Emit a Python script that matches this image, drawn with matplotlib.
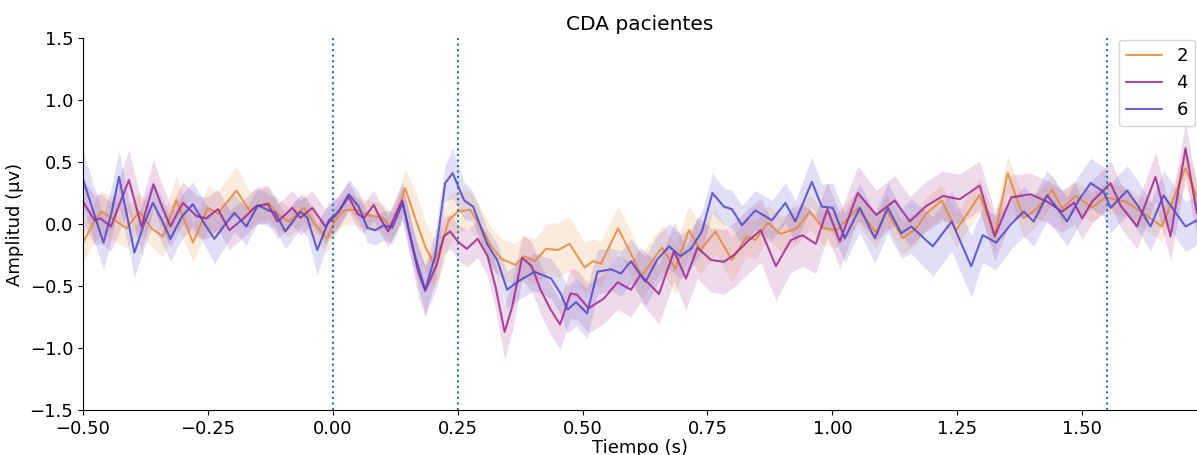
import numpy as np
import matplotlib
matplotlib.use("Agg")
import matplotlib.pyplot as plt

# ---------------- datos ----------------
t_2 = [-0.500, -0.480, -0.463, -0.443, -0.413, -0.387, -0.363, -0.340, -0.313, -0.296,
       -0.280, -0.250, -0.230, -0.193, -0.167, -0.147, -0.128, -0.108, -0.088, -0.058,
       -0.035, -0.011, 0.005, 0.022, 0.045, 0.072, 0.099, 0.115, 0.129, 0.145,
       0.165, 0.185, 0.202, 0.219, 0.232, 0.250, 0.275, 0.296, 0.316, 0.337,
       0.365, 0.384, 0.404, 0.427, 0.451, 0.474, 0.504, 0.521, 0.537, 0.571,
       0.597, 0.618, 0.659, 0.686, 0.713, 0.736, 0.766, 0.799, 0.829, 0.846,
       0.871, 0.896, 0.929, 0.955, 0.981, 1.008, 1.030, 1.051, 1.088, 1.108,
       1.141, 1.168, 1.188, 1.219, 1.248, 1.295, 1.325, 1.351, 1.383, 1.410,
       1.440, 1.460, 1.487, 1.520, 1.547, 1.587, 1.627, 1.660, 1.707, 1.730]
y_2 = [-0.15, 0.00, 0.10, 0.05, -0.035, 0.10, -0.035, -0.10, 0.19, 0.02,
       -0.15, 0.13, 0.086, 0.27, 0.11, 0.15, 0.17, 0.072, 0.02, 0.13,
       -0.008, -0.115, 0.03, 0.11, 0.115, 0.07, 0.053, -0.02, 0.086, 0.29,
       0.046, -0.18, -0.32, -0.156, 0.03, 0.10, 0.115, -0.02, -0.17, -0.28,
       -0.33, -0.26, -0.30, -0.20, -0.21, -0.16, -0.35, -0.30, -0.32, -0.035,
       -0.24, -0.42, -0.19, -0.36, -0.05, -0.21, -0.06, -0.29, -0.10, -0.13,
       0.01, -0.08, -0.035, 0.10, -0.03, -0.05, 0.04, 0.126, -0.07, 0.113,
       -0.115, -0.035, 0.086, 0.19, -0.05, 0.234, -0.09, 0.41, 0.046, 0.126,
       0.274, 0.126, 0.226, 0.134, 0.215, 0.18, 0.073, -0.02, 0.45, 0.22]
e_2 = [0.15, 0.16, 0.17, 0.17, 0.16, 0.16, 0.15, 0.16, 0.20, 0.18,
       0.15, 0.18, 0.17, 0.20, 0.15, 0.13, 0.13, 0.12, 0.12, 0.12,
       0.12, 0.12, 0.12, 0.12, 0.12, 0.12, 0.12, 0.12, 0.13, 0.15,
       0.22, 0.20, 0.20, 0.22, 0.20, 0.17, 0.15, 0.15, 0.15, 0.16,
       0.17, 0.17, 0.18, 0.20, 0.22, 0.22, 0.20, 0.18, 0.18, 0.18,
       0.18, 0.18, 0.18, 0.20, 0.20, 0.20, 0.18, 0.18, 0.16, 0.15,
       0.14, 0.14, 0.14, 0.14, 0.14, 0.14, 0.14, 0.13, 0.13, 0.13,
       0.13, 0.13, 0.13, 0.13, 0.14, 0.14, 0.14, 0.14, 0.16, 0.13,
       0.12, 0.13, 0.12, 0.12, 0.12, 0.12, 0.12, 0.12, 0.15, 0.14]

t_4 = [-0.500, -0.477, -0.465, -0.444, -0.426, -0.408, -0.395, -0.383, -0.371, -0.359,
       -0.342, -0.325, -0.300, -0.273, -0.253, -0.230, -0.207, -0.180, -0.153, -0.130,
       -0.111, -0.098, -0.081, -0.065, -0.041, -0.015, 0.009, 0.032, 0.049, 0.062,
       0.082, 0.095, 0.111, 0.125, 0.139, 0.159, 0.172, 0.185, 0.209, 0.222,
       0.235, 0.250, 0.268, 0.290, 0.310, 0.326, 0.344, 0.359, 0.379, 0.398,
       0.416, 0.436, 0.455, 0.476, 0.489, 0.512, 0.543, 0.570, 0.597, 0.616,
       0.653, 0.683, 0.707, 0.730, 0.757, 0.783, 0.803, 0.833, 0.857, 0.887,
       0.917, 0.940, 0.967, 0.990, 1.015, 1.051, 1.088, 1.125, 1.155, 1.188,
       1.221, 1.255, 1.295, 1.325, 1.358, 1.397, 1.430, 1.460, 1.484, 1.500,
       1.520, 1.557, 1.577, 1.610, 1.647, 1.677, 1.707, 1.730]
y_4 = [0.18, 0.03, 0.045, -0.02, 0.17, 0.355, 0.16, -0.02, 0.15, 0.32,
       0.14, -0.02, 0.17, 0.065, 0.045, 0.12, -0.05, 0.04, 0.145, 0.16,
       0.02, 0.065, 0.13, 0.05, 0.13, -0.02, 0.086, 0.22, 0.086, 0.046,
       0.153, 0.046, -0.06, 0.07, 0.19, -0.18, -0.40, -0.54, -0.32, -0.10,
       -0.06, -0.14, -0.20, -0.12, -0.26, -0.51, -0.87, -0.67, -0.27, -0.34,
       -0.53, -0.69, -0.81, -0.56, -0.57, -0.68, -0.60, -0.47, -0.53, -0.41,
       -0.565, -0.22, -0.44, -0.19, -0.29, -0.305, -0.25, -0.13, -0.05, -0.34,
       -0.13, -0.09, -0.16, 0.12, -0.14, 0.25, 0.073, 0.19, 0.02, 0.145,
       0.226, 0.20, 0.31, -0.10, 0.215, 0.24, 0.18, 0.10, 0.172, 0.046,
       0.18, 0.328, 0.15, -0.02, 0.38, -0.10, 0.61, 0.086]
e_4 = [0.18, 0.20, 0.20, 0.20, 0.22, 0.24, 0.22, 0.20, 0.20, 0.20,
       0.18, 0.17, 0.17, 0.17, 0.17, 0.16, 0.16, 0.15, 0.15, 0.15,
       0.14, 0.14, 0.14, 0.14, 0.14, 0.14, 0.13, 0.12, 0.12, 0.12,
       0.12, 0.12, 0.13, 0.14, 0.15, 0.17, 0.20, 0.20, 0.18, 0.15,
       0.14, 0.14, 0.15, 0.15, 0.16, 0.18, 0.22, 0.20, 0.18, 0.20,
       0.20, 0.20, 0.20, 0.20, 0.20, 0.20, 0.20, 0.22, 0.22, 0.22,
       0.24, 0.24, 0.25, 0.25, 0.26, 0.26, 0.26, 0.26, 0.26, 0.28,
       0.26, 0.25, 0.24, 0.22, 0.22, 0.22, 0.20, 0.20, 0.20, 0.20,
       0.20, 0.20, 0.20, 0.20, 0.18, 0.17, 0.17, 0.17, 0.17, 0.17,
       0.17, 0.18, 0.18, 0.18, 0.20, 0.20, 0.22, 0.20]

t_6 = [-0.500, -0.480, -0.459, -0.443, -0.428, -0.412, -0.397, -0.378, -0.360, -0.342,
       -0.325, -0.302, -0.280, -0.258, -0.237, -0.217, -0.197, -0.173, -0.150, -0.128,
       -0.115, -0.095, -0.065, -0.051, -0.031, -0.008, 0.012, 0.032, 0.052, 0.069,
       0.085, 0.102, 0.119, 0.140, 0.165, 0.185, 0.205, 0.225, 0.240, 0.263,
       0.281, 0.309, 0.329, 0.349, 0.372, 0.404, 0.437, 0.456, 0.470, 0.487,
       0.509, 0.530, 0.557, 0.577, 0.597, 0.616, 0.626, 0.649, 0.673, 0.696,
       0.717, 0.739, 0.760, 0.783, 0.799, 0.819, 0.846, 0.879, 0.906, 0.926,
       0.959, 0.979, 1.001, 1.025, 1.055, 1.085, 1.111, 1.138, 1.158, 1.201,
       1.239, 1.278, 1.301, 1.328, 1.358, 1.383, 1.403, 1.430, 1.450, 1.470,
       1.493, 1.517, 1.543, 1.557, 1.590, 1.613, 1.637, 1.663, 1.707, 1.730]
y_6 = [0.36, 0.11, -0.15, 0.09, 0.38, 0.07, -0.23, 0.00, 0.17, 0.03,
       -0.12, 0.06, 0.16, 0.01, -0.12, -0.01, 0.09, -0.02, 0.15, 0.11,
       0.09, -0.06, 0.10, 0.05, -0.21, 0.03, 0.10, 0.24, 0.14, -0.03,
       -0.05, -0.01, -0.03, 0.17, -0.26, -0.53, -0.26, 0.33, 0.41, 0.19,
       0.14, -0.16, -0.29, -0.53, -0.46, -0.385, -0.44, -0.56, -0.69, -0.63,
       -0.72, -0.385, -0.365, -0.40, -0.30, -0.41, -0.465, -0.29, -0.18, -0.26,
       -0.20, -0.06, 0.25, 0.14, 0.12, -0.01, 0.11, 0.03, 0.17, 0.02,
       0.34, 0.14, 0.13, -0.115, 0.13, -0.115, 0.13, -0.075, -0.02, -0.18,
       0.02, -0.34, -0.09, -0.15, 0.00, 0.10, 0.02, 0.23, 0.13, 0.02,
       0.19, 0.33, 0.26, 0.13, 0.27, 0.14, -0.02, 0.23, -0.02, 0.03]
e_6 = [0.23, 0.22, 0.22, 0.21, 0.21, 0.20, 0.20, 0.20, 0.18, 0.18,
       0.18, 0.18, 0.18, 0.17, 0.20, 0.18, 0.15, 0.15, 0.14, 0.13,
       0.13, 0.14, 0.14, 0.15, 0.20, 0.15, 0.12, 0.12, 0.12, 0.12,
       0.12, 0.12, 0.13, 0.14, 0.15, 0.20, 0.20, 0.15, 0.20, 0.15,
       0.12, 0.12, 0.13, 0.15, 0.15, 0.15, 0.16, 0.17, 0.19, 0.19,
       0.20, 0.18, 0.17, 0.18, 0.18, 0.18, 0.20, 0.20, 0.18, 0.18,
       0.16, 0.16, 0.16, 0.15, 0.15, 0.16, 0.16, 0.16, 0.16, 0.17,
       0.20, 0.18, 0.20, 0.20, 0.20, 0.20, 0.20, 0.20, 0.22, 0.24,
       0.24, 0.25, 0.22, 0.22, 0.20, 0.20, 0.20, 0.20, 0.20, 0.20,
       0.20, 0.20, 0.20, 0.20, 0.20, 0.20, 0.20, 0.20, 0.20, 0.20]

etiquetas = ["2", "4", "6"]
colores = ["#e8893a", "#a0288e", "#5046c8"]
eventos = [0.0, 0.25, 1.55]

# ---------------- grafico ----------------
fig = plt.figure(figsize=(11.97, 4.55), dpi=100)
ax = fig.add_axes([83 / 1197, 1 - 410 / 455, 1 - 83 / 1197, (410 - 38) / 455])

series = [(t_2, y_2, e_2), (t_4, y_4, e_4), (t_6, y_6, e_6)]
for (t, y, e), lab, col in zip(series, etiquetas, colores):
    t = np.array(t)
    y = np.array(y)
    e = np.array(e)
    ax.fill_between(t, y - e, y + e, color=col, alpha=0.17, linewidth=0)
    ax.plot(t, y, color=col, lw=1.5, alpha=0.85, label=lab,
            solid_joinstyle="round", solid_capstyle="round")

for ev in eventos:
    ax.axvline(ev, color="#1f77b4", ls=":", lw=1.5)

ax.set_xlim(-0.5, 1.73)
ax.set_ylim(-1.5, 1.5)
ax.set_xticks([-0.5, -0.25, 0.0, 0.25, 0.5, 0.75, 1.0, 1.25, 1.5])
ax.set_yticks([-1.5, -1.0, -0.5, 0.0, 0.5, 1.0, 1.5])
ax.tick_params(labelsize=13)
ax.spines["top"].set_visible(False)
ax.spines["right"].set_visible(False)
ax.set_title("CDA pacientes", fontsize=14.5)
ax.set_xlabel("Tiempo (s)", fontsize=13, labelpad=1)
ax.set_ylabel("Amplitud (µv)", fontsize=13)
ax.legend(loc="upper right", fontsize=13, borderaxespad=0.1)

fig.savefig("out.png", dpi=100)
